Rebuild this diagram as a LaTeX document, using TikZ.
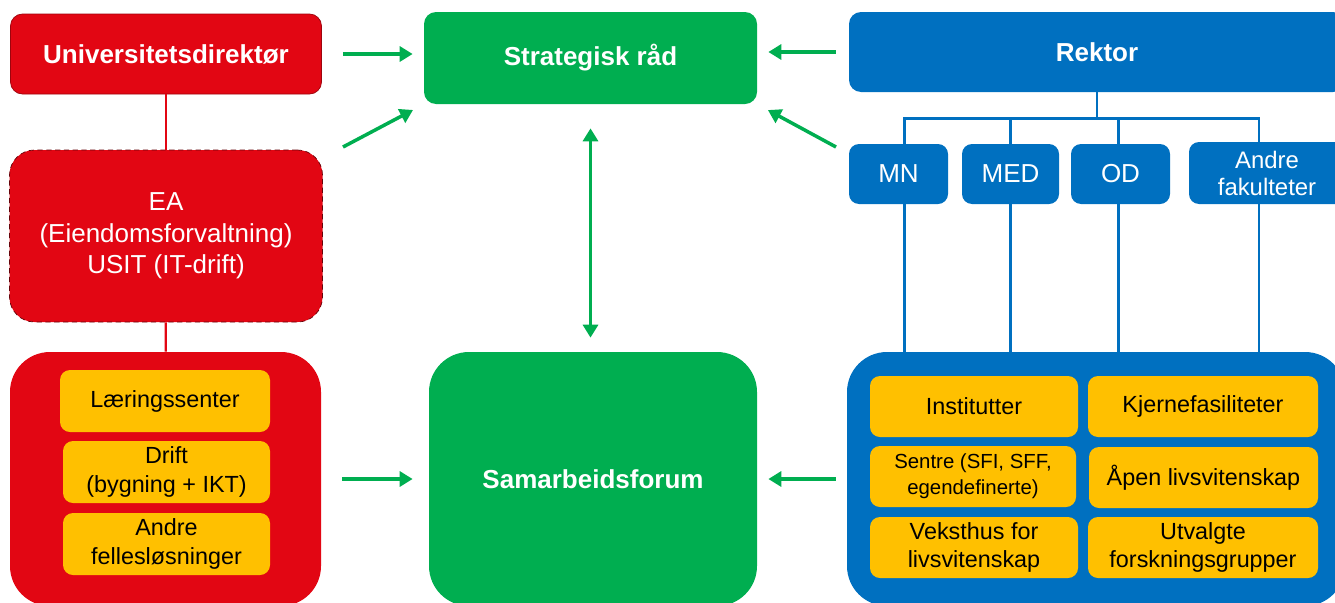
\documentclass[tikz,border=0pt]{standalone}
\usepackage{fontspec}
\setmainfont{Liberation Sans}
\usepackage{xcolor}
\usepackage{tikz}
\usetikzlibrary{positioning,arrows.meta,calc}

\definecolor{uioRed}{RGB}{226,6,19}
\definecolor{uioGreen}{RGB}{0,174,80}
\definecolor{uioBlue}{RGB}{0,112,192}
\definecolor{uioYellow}{RGB}{255,192,0}

\newlength\pxu
\setlength\pxu{0.02cm}

\tikzset{
  box/.style={align=center, inner sep=0pt, text=white,
    font=\fontsize{14.8}{18}\selectfont},
  title/.style={box, font=\fontsize{14.8}{18}\selectfont\bfseries},
  cell/.style={fill=uioYellow, rounded corners=10\pxu, align=center, inner sep=0pt,
    text=black, font=\fontsize{13.3}{16.4}\selectfont},
  fac/.style={box, fill=uioBlue, rounded corners=10\pxu, minimum height=60\pxu},
  arr/.style={-{Triangle[length=0.26cm,width=0.3cm]}, line width=3.5\pxu, uioGreen},
  arrboth/.style={arr, {Triangle[length=0.26cm,width=0.3cm]}-{Triangle[length=0.26cm,width=0.3cm]}},
  redline/.style={uioRed, line width=2.2\pxu},
  blueline/.style={uioBlue, line width=2.5\pxu}
}

\begin{document}
\begin{tikzpicture}[x=0.02cm, y=-0.02cm]
  \path[use as bounding box, clip] (0,0) rectangle (1335,602);

  % Left column (administration)
  \node[title, fill=uioRed, draw=uioRed!70!black, rounded corners=12\pxu,
        minimum width=311\pxu, minimum height=80\pxu] (udir) at (166,54) {Universitetsdirektør};
  \node[box, fill=uioRed, draw=uioRed!45!black, densely dashed, rounded corners=25\pxu,
        minimum width=313\pxu, minimum height=172\pxu] (ea) at (166,236)
        {EA\\(Eiendomsforvaltning)\\USIT (IT-drift)};
  \node[box, fill=uioRed, rounded corners=40\pxu,
        minimum width=311\pxu, minimum height=254\pxu] (lab) at (165.5,479) {};
  \node[cell, minimum width=210\pxu, minimum height=62\pxu] (laer) at (165,401) {Læringssenter};
  \node[cell, minimum width=207\pxu, minimum height=62\pxu] (drift) at (166.5,472) {Drift\\(bygning + IKT)};
  \node[cell, minimum width=207\pxu, minimum height=62\pxu] (felles) at (166.5,544) {Andre\\fellesløsninger};

  \draw[redline] (udir) -- (ea);
  \draw[redline] (ea) -- (lab);

  % Middle column
  \node[title, fill=uioGreen, rounded corners=12\pxu,
        minimum width=333\pxu, minimum height=92\pxu] (strat) at (590.5,58) {Strategisk råd};
  \node[title, fill=uioGreen, rounded corners=40\pxu,
        minimum width=328\pxu, minimum height=254\pxu] (samarb) at (593,479) {Samarbeidsforum};

  % Right column (faculties)
  \node[title, fill=uioBlue, rounded corners=12\pxu,
        minimum width=496\pxu, minimum height=80\pxu] (rektor) at (1097,52) {Rektor};
  \node[fac, minimum width=99\pxu] (mn) at (898.5,174) {MN};
  \node[fac, minimum width=97\pxu] (med) at (1010.5,174) {MED};
  \node[fac, minimum width=99\pxu] (od) at (1120.5,174) {OD};
  \node[fac, minimum width=156\pxu, minimum height=62\pxu,
        font=\fontsize{13.6}{15.4}\selectfont] (andre) at (1267,173) {Andre\\fakulteter};
  \node[box, fill=uioBlue, rounded corners=40\pxu,
        minimum width=498\pxu, minimum height=254\pxu] (unit) at (1096,479) {};
  \node[cell, minimum width=208\pxu, minimum height=61\pxu] (inst) at (974,406.5) {Institutter};
  \node[cell, minimum width=230\pxu, minimum height=61\pxu] (kjerne) at (1203,406.5) {Kjernefasiliteter};
  \node[cell, minimum width=206\pxu, minimum height=61\pxu,
        font=\fontsize{11.6}{14.7}\selectfont] (sentre) at (973,476.5) {Sentre (SFI, SFF,\\egendefinerte)};
  \node[cell, minimum width=229\pxu, minimum height=61\pxu] (aapen) at (1203.5,477.5) {Åpen livsvitenskap};
  \node[cell, minimum width=208\pxu, minimum height=61\pxu] (vekst) at (974,547.5) {Veksthus for\\livsvitenskap};
  \node[cell, minimum width=230\pxu, minimum height=61\pxu] (utvalgt) at (1203,547.5) {Utvalgte\\forskningsgrupper};

  \draw[blueline] (rektor.south) -- ++(0,26) coordinate (bus);
  \foreach \f/\dx in {mn/6, med/0, od/-2, andre/-8} {
    \draw[blueline] ($(\f.north)+(\dx,0)$) |- (bus);
    \draw[blueline] ($(\f.south)+(\dx,0)$) -- ($(\f.south |- unit.north)+(\dx,0)$);
  }

  % Green arrows
  \coordinate (eaTail) at (343,147);
  \coordinate (rkTail) at (836,147);
  \draw[arr, shorten <=21\pxu, shorten >=11\pxu] (udir.east) -- (udir.east -| strat.west);
  \draw[arr, shorten >=12\pxu] (eaTail) -- (strat.south west);
  \draw[arr, shorten <=13\pxu, shorten >=11\pxu] (rektor.west) -- (rektor.west -| strat.east);
  \draw[arr, shorten >=12\pxu] (rkTail) -- (strat.south east);
  \draw[arrboth, shorten <=24\pxu, shorten >=14\pxu] (strat.south) -- (strat.south |- samarb.north);
  \draw[arr, shorten <=21\pxu, shorten >=16\pxu] (lab.east) -- (samarb.west);
  \draw[arr, shorten <=11\pxu, shorten >=11\pxu] (unit.west) -- (samarb.east);
\end{tikzpicture}
\end{document}
